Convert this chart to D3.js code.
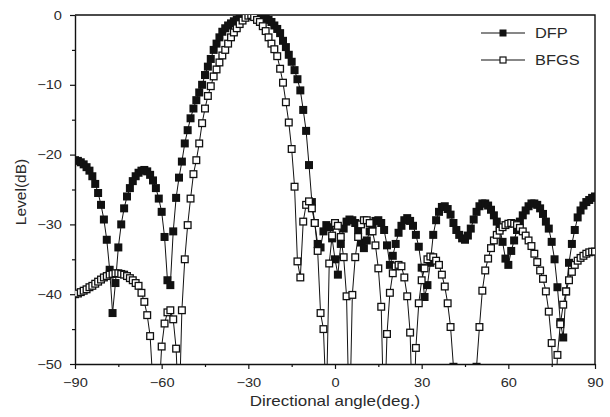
<!DOCTYPE html>
<html>
<head>
<meta charset="utf-8">
<script src="https://cdn.jsdelivr.net/npm/d3@7"></script>
<style>
  html, body { margin: 0; padding: 0; background: #fff; }
  svg { display: block; font-family: "Liberation Sans", Arial, sans-serif; }
  .wide { transform-box: fill-box; transform: scaleX(1.17); }
</style>
</head>
<body>
<svg id="chart" width="610" height="417"></svg>
<script>
// Sampling grid: directional angle in degrees, 1 degree apart
const angles = d3.range(-90, 91, 1);

// Array pattern levels (dB) for the DFP-optimised weights, -90..90 deg
const dfpLevels = [
  -20.8, -20.9, -21.1, -21.4, -21.8, -22.3, -23.1, -24.2, -25.5, -27.2,
  -29.3, -32.2, -36.5, -42.7, -38.4, -33.3, -30.0, -27.7, -26.0, -24.8,
  -23.8, -23.1, -22.6, -22.3, -22.2, -22.4, -22.9, -23.7, -24.8, -26.3,
  -28.2, -31.8, -38.0, -38.7, -31.0, -26.2, -23.3, -21.0, -18.4, -16.5,
  -14.8, -13.4, -12.2, -11.1, -10.0, -8.6, -7.4, -6.3, -5.0, -4.1,
  -3.2, -2.4, -1.9, -1.5, -1.2, -0.9, -0.7, -0.5, -0.3, -0.2,
  -0.1, 0.0, -0.1, -0.2, -0.3, -0.4, -0.5, -0.7, -1.0, -1.5,
  -2.0, -2.6, -3.7, -4.6, -5.7, -6.7, -7.9, -9.2, -10.8, -13.6,
  -16.6, -21.5, -26.8, -29.8, -32.8, -33.3, -31.0, -30.1, -30.4, -32.0,
  -35.0, -37.2, -32.8, -30.6, -29.6, -29.3, -29.4, -29.8, -30.8, -32.6,
  -33.4, -32.3, -31.0, -30.0, -29.5, -29.4, -29.8, -30.8, -33.0, -35.8,
  -34.5, -32.8, -31.2, -30.2, -29.4, -29.1, -29.5, -30.2, -31.5, -33.2,
  -36.2, -40.4, -38.7, -35.5, -31.5, -29.4, -28.2, -27.5, -27.4, -27.8,
  -28.6, -29.8, -30.8, -31.5, -32.0, -32.2, -31.6, -30.6, -29.3, -28.2,
  -27.4, -27.0, -27.0, -27.3, -27.9, -28.7, -29.6, -30.5, -32.5, -34.9,
  -35.8, -33.8, -32.3, -30.8, -29.6, -28.7, -28.0, -27.4, -27.0, -27.0,
  -27.2, -27.7, -28.5, -29.6, -30.6, -32.5, -35.0, -39.0, -44.0, -46.2,
  -39.6, -35.5, -32.8, -30.8, -29.0, -28.0, -27.3, -26.8, -26.5, -26.2,
  -26.0
];

// Array pattern levels (dB) for the BFGS-optimised weights, -90..90 deg
const bfgsLevels = [
  -40.0, -39.9, -39.7, -39.5, -39.3, -39.0, -38.8, -38.5, -38.2, -37.9,
  -37.6, -37.4, -37.2, -37.1, -37.0, -37.0, -37.1, -37.2, -37.4, -37.7,
  -38.0, -38.4, -38.8, -39.8, -41.1, -43.0, -46.0, -53.0, -60.0, -55.0,
  -47.5, -44.2, -42.6, -42.3, -43.6, -47.8, -58.0, -42.3, -35.0, -30.1,
  -26.3, -22.8, -20.8, -18.4, -15.5, -13.4, -11.6, -10.2, -8.8, -7.8,
  -6.8, -5.8, -5.0, -4.1, -3.2, -2.5, -1.9, -1.3, -0.8, -0.4,
  -0.1, 0.0, -0.3, -0.7, -1.0, -1.6, -2.3, -3.2, -4.1, -4.9,
  -5.9, -7.7, -9.7, -12.5, -15.4, -19.2, -24.6, -35.3, -37.6, -29.6,
  -27.2, -26.7, -27.7, -29.8, -33.8, -42.7, -45.0, -56.0, -35.6, -31.6,
  -29.8, -30.2, -31.8, -34.7, -40.3, -60.0, -40.1, -34.7, -31.8, -30.0,
  -29.4, -29.4, -29.8, -31.0, -33.0, -36.3, -41.8, -60.0, -45.7, -39.8,
  -37.0, -36.0, -35.8, -36.0, -37.6, -40.3, -45.5, -60.0, -47.7, -41.3,
  -38.0, -36.3, -35.0, -34.6, -34.7, -35.2, -35.8, -37.2, -38.9, -41.3,
  -44.7, -50.4, -56.0, -62.0, -68.0, -70.0, -66.0, -60.0, -55.0, -50.4,
  -44.7, -39.5, -36.6, -34.9, -33.4, -32.3, -31.5, -30.9, -30.4, -30.1,
  -29.9, -29.8, -29.9, -30.1, -30.5, -31.0, -31.6, -32.3, -33.1, -34.2,
  -35.4, -36.6, -37.8, -39.6, -42.5, -47.0, -60.0, -48.7, -44.3, -41.5,
  -39.6, -38.0, -36.8, -35.8, -35.2, -34.8, -34.5, -34.2, -34.0, -33.9,
  -33.9
];

const seriesNames = ["DFP", "BFGS"];
const xTicks = [-90, -60, -30, 0, 30, 60, 90];
const xMinorTicks = [-75, -45, -15, 15, 45, 75];
const yTicks = [0, -10, -20, -30, -40, -50];
const yMinorTicks = [-5, -15, -25, -35, -45];
const xTitle = "Directional angle(deg.)";
const yTitle = "Level(dB)";

const svg = d3.select("#chart");
const box = { left: 75, right: 595, top: 15, bottom: 364 };
const ink = "#111";

const x = d3.scaleLinear().domain([-90, 90]).range([box.left, box.right]);
const y = d3.scaleLinear().domain([-50, 0]).range([box.bottom, box.top]);

svg.append("defs").append("clipPath").attr("id", "plotArea")
  .append("rect")
  .attr("x", box.left).attr("y", box.top)
  .attr("width", box.right - box.left).attr("height", box.bottom - box.top);

// Minor ticks (outward, unlabeled)
svg.append("g").attr("transform", `translate(0,${box.bottom})`)
  .call(d3.axisBottom(x).tickValues(xMinorTicks).tickSize(3).tickFormat("").tickSizeOuter(0))
  .call(g => g.select(".domain").remove());
svg.append("g").attr("transform", `translate(${box.left},0)`)
  .call(d3.axisLeft(y).tickValues(yMinorTicks).tickSize(3).tickFormat("").tickSizeOuter(0))
  .call(g => g.select(".domain").remove());

// Major axes
const xAxis = svg.append("g").attr("transform", `translate(0,${box.bottom})`)
  .call(d3.axisBottom(x).tickValues(xTicks).tickSize(5).tickPadding(9).tickSizeOuter(0));
const yAxis = svg.append("g").attr("transform", `translate(${box.left},0)`)
  .call(d3.axisLeft(y).tickValues(yTicks).tickSize(5).tickPadding(8).tickSizeOuter(0));

svg.selectAll(".tick line").attr("stroke", ink).attr("stroke-width", 1.2);
svg.selectAll(".domain").attr("stroke", ink).attr("stroke-width", 1.4);
[xAxis, yAxis].forEach(a => a.selectAll("text")
  .attr("font-family", "Liberation Sans, Arial, sans-serif")
  .attr("font-size", 12.5).attr("fill", "#2a2a2a"));
xAxis.selectAll("text").attr("class", "wide").style("transform-origin", "50% 50%");
yAxis.selectAll("text").attr("class", "wide").style("transform-origin", "100% 50%");

// Top and right frame lines
svg.append("path")
  .attr("d", `M${box.left},${box.top}H${box.right}V${box.bottom}`)
  .attr("fill", "none").attr("stroke", ink).attr("stroke-width", 1.4);

// Axis titles
svg.append("text")
  .attr("class", "wide").style("transform-origin", "50% 50%")
  .attr("x", 335).attr("y", 406).attr("text-anchor", "middle")
  .attr("font-size", 14.5).attr("fill", "#2a2a2a").text(xTitle);
svg.append("text")
  .attr("transform", "translate(26,192) rotate(-90)")
  .attr("text-anchor", "middle")
  .attr("font-size", 15.5).attr("fill", "#2a2a2a").text(yTitle);

// Series
const lineGen = d3.line().x((d, i) => x(angles[i])).y(d => y(d));
const plotG = svg.append("g").attr("clip-path", "url(#plotArea)");
const markerSize = 8;

function drawSeries(values, filled) {
  plotG.append("path").datum(values)
    .attr("d", lineGen).attr("fill", "none")
    .attr("stroke", ink).attr("stroke-width", 1);
  const s = filled ? markerSize : markerSize - 1.3;
  plotG.append("g").selectAll("rect").data(values).join("rect")
    .attr("x", (d, i) => x(angles[i]) - s / 2)
    .attr("y", d => y(d) - s / 2)
    .attr("width", s).attr("height", s)
    .attr("fill", filled ? ink : "#fff")
    .attr("stroke", filled ? "none" : ink)
    .attr("stroke-width", 1.3);
}
drawSeries(dfpLevels, true);
drawSeries(bfgsLevels, false);

// Legend
const legend = svg.append("g");
seriesNames.forEach((name, k) => {
  const ly = 33 + k * 27;
  legend.append("line").attr("x1", 481).attr("x2", 525).attr("y1", ly).attr("y2", ly)
    .attr("stroke", ink).attr("stroke-width", 1.2);
  const s = k === 0 ? 7 : 6;
  legend.append("rect")
    .attr("x", 503 - s / 2).attr("y", ly - s / 2).attr("width", s).attr("height", s)
    .attr("fill", k === 0 ? ink : "#fff")
    .attr("stroke", k === 0 ? "none" : ink).attr("stroke-width", 1.2);
  legend.append("text")
    .attr("class", "wide").style("transform-origin", "0% 50%")
    .attr("x", 535).attr("y", ly + 5)
    .attr("font-size", 14).attr("fill", "#2a2a2a").text(name);
});
</script>
</body>
</html>
